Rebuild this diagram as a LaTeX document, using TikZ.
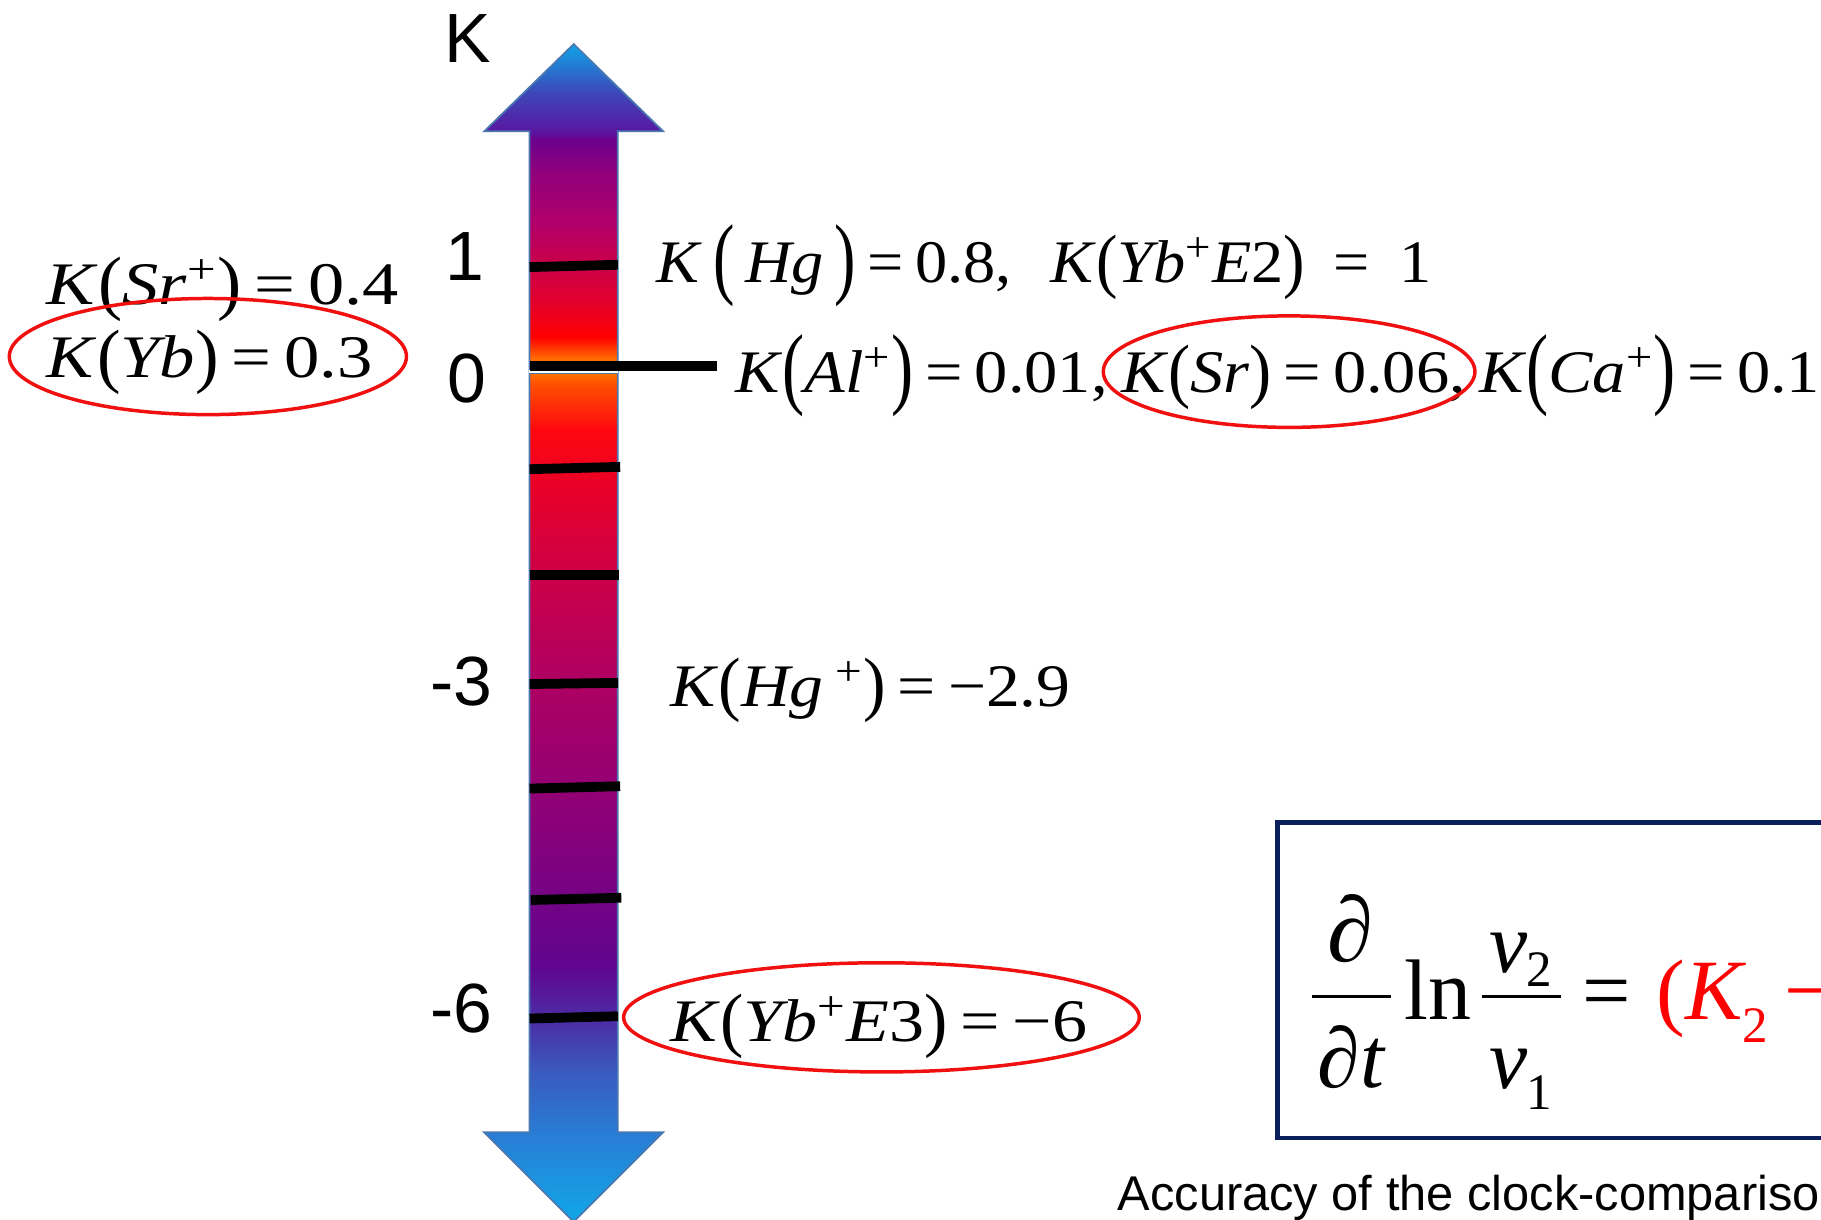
\documentclass[tikz,border=0pt]{standalone}
\usepackage{fontspec}
\setmainfont{Liberation Serif}
\setsansfont{Liberation Sans}
\usepackage{graphicx}
\newcommand{\tallpar}[1]{\raisebox{-0.08em}{\scalebox{1}[1.5]{#1}}}
\newcommand{\midpar}[1]{\raisebox{-0.03em}{\scalebox{1}[1.18]{#1}}}
\newcommand{\ionplus}{\textsuperscript{+}}
\newcommand{\itx}[1]{\textit{#1}}
\newcommand{\eqsp}{\hspace{0.18em}=\hspace{0.18em}}
\newcommand{\wide}[2]{\scalebox{#1}[1]{#2}}
\definecolor{arrowedge}{HTML}{4A78B0}
\definecolor{boxnavy}{HTML}{0B1F5C}
\definecolor{ellred}{HTML}{F01010}
\pgfdeclareverticalshading{kbar}{100bp}{%
rgb(0bp)=(0.06,0.66,0.91);
rgb(25bp)=(0.06,0.66,0.91);
rgb(28.71bp)=(0.16,0.49,0.83);
rgb(31.42bp)=(0.23,0.35,0.75);
rgb(33.40bp)=(0.29,0.19,0.66);
rgb(35.87bp)=(0.38,0.02,0.56);
rgb(42.29bp)=(0.55,0,0.47);
rgb(48.22bp)=(0.69,0,0.38);
rgb(52.42bp)=(0.80,0,0.28);
rgb(56.13bp)=(0.91,0,0.16);
rgb(58.60bp)=(1,0.03,0.06);
rgb(60.57bp)=(1,0.31,0);
rgb(61.20bp)=(1,0.50,0);
rgb(61.66bp)=(1,0.42,0);
rgb(62.55bp)=(1,0,0);
rgb(64.03bp)=(0.89,0,0.17);
rgb(65.56bp)=(0.80,0,0.28);
rgb(67.49bp)=(0.69,0,0.42);
rgb(69.47bp)=(0.57,0,0.48);
rgb(70.95bp)=(0.42,0,0.55);
rgb(71.29bp)=(0.35,0.09,0.63);
rgb(72.93bp)=(0.24,0.28,0.72);
rgb(75bp)=(0.06,0.64,0.91);
rgb(100bp)=(0.06,0.64,0.91)}
\tikzset{
  serlab/.style={font=\fontsize{26}{30}\selectfont, inner sep=0pt, anchor=base west},
  axlab/.style={font=\sffamily\fontsize{30}{34}\selectfont, inner sep=0pt},
  tick/.style={line width=4.2pt, black},
  ring/.style={draw=ellred, line width=1.5pt},
  fml/.style={font=\fontsize{37}{42}\selectfont, inner sep=0pt},
  fsub/.style={font=\fontsize{22}{24}\selectfont, inner sep=0pt, anchor=base west},
  fbar/.style={line width=1.6pt, black}
}
\begin{document}
\begin{tikzpicture}[x=0.5pt, y=-0.5pt]
\clip (0,0) rectangle (1568,1050);
\fill[white] (0,0) rectangle (1568,1050);
% gradient double arrow
\shadedraw[shading=kbar, draw=arrowedge, line width=0.75pt]
  (494,38) -- (571,113) -- (532,113) -- (532,975) -- (571,975) -- (494,1052)
  -- (417,975) -- (456,975) -- (456,113) -- (417,113) -- cycle;
% split of the shaft just below zero
\fill[white] (455.5,318.5) rectangle (532.5,321);
\draw[arrowedge, line width=0.75pt] (456,321.5) -- (532,321.5);
% ticks
\draw[tick] (456,230) -- (532,228);
\draw[tick] (456,315) -- (617,315);
\draw[tick] (456,404) -- (534,402);
\draw[tick] (456,495) -- (533,495);
\draw[tick] (456,589) -- (532,588);
\draw[tick] (456,679) -- (534,677);
\draw[tick] (457,775) -- (535,773);
\draw[tick] (456,877) -- (532,875);
% axis labels
\node[axlab] (lK) at (403,33) {K};
\node[axlab] (l1) at (400,221) {1};
\node[axlab] (l0) at (402,326) {0};
\node[axlab] (lm3) at (397,587) {-3};
\node[axlab] (lm6) at (397,868) {-6};
% left labels
\node[serlab] (srp) at (40,262) {\wide{1.2}{\itx{K}\midpar{(}\itx{Sr}\ionplus\midpar{)}\eqsp0.4}};
\node[serlab] (yb) at (40,325) {\wide{1.17}{\itx{K}\midpar{(}\itx{Yb}\midpar{)}\eqsp0.3}};
\draw[ring] (179,307) ellipse [x radius=85.5pt, y radius=25pt];
% right labels
\node[serlab] (hg) at (565,243) {\wide{1.065}{\itx{K}\,\tallpar{(}\,\itx{Hg}\,\tallpar{)}\eqsp0.8,\hspace{0.6em}\itx{K}\midpar{(}\itx{Yb}\ionplus\itx{E}2\midpar{)}\hspace{0.45em}=\hspace{0.45em}1}};
\node[serlab] (al) at (633,338) {\wide{1.1}{\itx{K}\tallpar{(}\itx{Al}\ionplus\tallpar{)}\eqsp0.01,\hspace{0.2em}\itx{K}\midpar{(}\itx{Sr}\midpar{)}\eqsp0.06,\hspace{0.2em}\itx{K}\tallpar{(}\itx{Ca}\ionplus\tallpar{)}\eqsp0.1}};
\draw[ring] (1110,320) ellipse [x radius=80pt, y radius=24pt];
\node[serlab] (hgp) at (577,608) {\wide{1.12}{\itx{K}\midpar{(}\itx{Hg}\,\ionplus\midpar{)}\eqsp−2.9}};
\node[serlab] (ybe3) at (577,897) {\wide{1.16}{\itx{K}\midpar{(}\itx{Yb}\ionplus\itx{E}3\midpar{)}\eqsp−6}};
\draw[ring] (759,876) ellipse [x radius=111pt, y radius=23.5pt];
% formula box
\draw[boxnavy, line width=2pt] (1100,708) rectangle (1640,980);
\coordinate (b1l) at (1130,858); \coordinate (b1r) at (1198,858);
\draw[fbar] (b1l) -- (b1r);
\node[fml, anchor=base, font=\fontsize{40}{44}\selectfont] (dnum) at (1163,828) {∂};
\node[fml, anchor=base] (dden) at (1164,936) {∂\itx{t}};
\node[fml, anchor=base west] (ln) at (1209,878) {ln};
\coordinate (b2l) at (1276,858); \coordinate (b2r) at (1344,858);
\draw[fbar] (b2l) -- (b2r);
\node[fml, anchor=base west] (vnum) at (1282,837) {\itx{v}};
\node[fsub] (s2) at (1314,849) {2};
\node[fml, anchor=base west] (vden) at (1282,937) {\itx{v}};
\node[fsub] (s1) at (1314,955) {1};
\node[fml, anchor=base west] (eq) at (1362,878) {=};
\node[fml, anchor=base west, text=red] (kk) at (1426,878) {(\itx{K}};
\node[fsub, text=red] (s2r) at (1500,898) {2};
\node[fml, anchor=base west, text=red] (mn) at (1536,878) {−};
% caption
\node[font=\sffamily\fontsize{21}{25}\selectfont, inner sep=0pt, anchor=base west] (cap) at (962,1042) {Accuracy of the clock-comparison};
\end{tikzpicture}
\end{document}
